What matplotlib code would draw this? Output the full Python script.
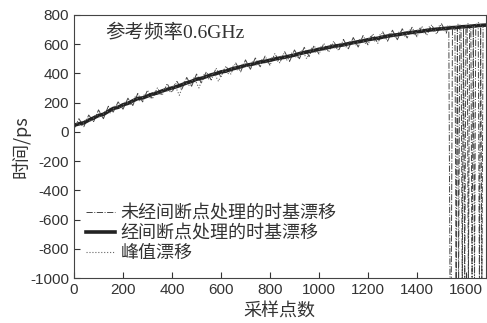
import numpy as np
import matplotlib.pyplot as plt

plt.rcParams['font.family'] = ['Liberation Sans', 'Noto Sans CJK SC']
plt.rcParams['axes.unicode_minus'] = False

# processed time-base drift, one value every 20 samples (0..1680)
proc_x = np.arange(0, 1681, 20)
proc_y = [45, 55, 62, 80, 95, 112, 120, 140, 160, 168,
          185, 195, 212, 228, 232, 245, 258, 266, 280, 290,
          300, 310, 322, 335, 345, 360, 366, 378, 390, 398,
          410, 415, 428, 436, 445, 455, 460, 468, 478, 482,
          490, 498, 505, 510, 518, 525, 535, 542, 550, 556,
          565, 570, 578, 585, 590, 595, 603, 610, 616, 622,
          630, 636, 640, 648, 655, 660, 664, 670, 676, 680,
          685, 688, 694, 698, 702, 705, 708, 712, 714, 718,
          720, 722, 726, 728, 730]

# unprocessed drift (with the wrap-around jumps near the end)
raw_x = list(range(0, 1521, 20)) + list(range(1525, 1681, 5))
raw_y = [20, 90, 35, 115, 70, 150, 90, 175, 135, 205,
         155, 230, 180, 262, 205, 285, 225, 300, 250, 330,
         270, 345, 290, 372, 312, 395, 335, 410, 355, 435,
         375, 450, 395, 472, 410, 492, 428, 505, 445, 518,
         455, 535, 472, 548, 482, 560, 500, 578, 515, 590,
         532, 605, 545, 620, 555, 632, 568, 645, 580, 658,
         595, 670, 605, 685, 620, 695, 630, 705, 642, 715,
         650, 722, 660, 732, 668, 740, 675,
         712, 700, -1050, -1050, 715, 705, 720, -1050, 708, -1050,
         722, 710, -1050, 716, -1050, 725, 712, -1050, 720, 730,
         -1050, 715, -1050, 728, 718, 732, -1050, 722, -1050, 735,
         725, 730]

# peak drift
peak_x = np.arange(10, 1680, 20)
peak_y = [60, 40, 88, 70, 120, 98, 145, 128, 182, 160,
          205, 188, 240, 208, 262, 232, 280, 255, 300, 272,
          325, 250, 345, 318, 370, 300, 392, 362, 405, 345,
          430, 398, 450, 418, 468, 440, 482, 452, 500, 468,
          512, 480, 528, 490, 540, 505, 560, 500, 572, 540,
          585, 555, 600, 565, 612, 580, 625, 595, 640, 605,
          652, 618, 665, 630, 678, 645, 690, 655, 700, 665,
          708, 675, 718, 685, 725, 695, 730, 700, 740, 705,
          742, 712, 748, 715]

labels = ['未经间断点处理的时基漂移', '经间断点处理的时基漂移', '峰值漂移']
serif = ['Liberation Serif', 'Noto Sans CJK SC']

fig = plt.figure(figsize=(4.87, 3.23), dpi=100)
ax = fig.add_axes([0.152, 0.139, 0.845, 0.815])

ax.plot(raw_x, raw_y, '-.', lw=0.7, color='#444444', label=labels[0])
ax.plot(proc_x, proc_y, '-', lw=2.6, color='#222222', label=labels[1])
ax.plot(peak_x, peak_y, ':', lw=0.8, color='#666666', label=labels[2])

ax.set_xlim(0, 1680)
ax.set_ylim(-1000, 800)
ax.set_xticks(range(0, 1601, 200))
ax.set_yticks(range(-1000, 801, 200))
ax.tick_params(direction='in', length=4, labelsize=11, colors='#333333')
for s in ax.spines.values():
    s.set_color('#444444')

ax.text(0.075, 0.93, '参考频率0.6GHz', transform=ax.transAxes, fontsize=14,
        family=serif, color='#333333', va='center')
ax.set_xlabel('采样点数', fontsize=13, family='Noto Sans CJK SC', color='#333333', labelpad=4)
ax.set_ylabel('时间/ps', fontsize=13, family='Noto Sans CJK SC', color='#333333', labelpad=0)

leg = ax.legend(loc='lower left', bbox_to_anchor=(-0.01, 0.0), frameon=False,
                handlelength=1.6, handletextpad=0.3, labelspacing=0.1,
                prop={'family': 'Noto Sans CJK SC', 'size': 13})
for t in leg.get_texts():
    t.set_color('#333333')

fig.savefig('out.png', dpi=100)
